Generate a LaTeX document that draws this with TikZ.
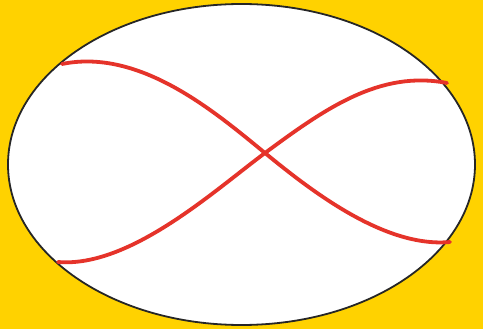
\documentclass[tikz,border=0pt]{standalone}
\definecolor{bgyellow}{HTML}{FFD200}
\definecolor{curvered}{HTML}{E5332A}
\tikzset{
  frame/.style={draw=black!85, line width=1.8pt, fill=white},
  wave/.style={draw=curvered, line width=3.8pt, line cap=round}
}
\begin{document}
\begin{tikzpicture}[x=1pt, y=-1pt]
  \fill[bgyellow] (0,0) rectangle (483,329);
  \useasboundingbox (0,0) rectangle (483,329);
  \coordinate (c) at (241.5,164.5);
  \path[frame] (c) ellipse [x radius=233.5, y radius=160.5];
  \coordinate (x) at (265,153);
  % curve from upper left to lower right
  \coordinate (a1) at (62,64);
  \coordinate (a2) at (450,242);
  \path[wave] (a1) .. controls (140,48) and (215,112) .. (x)
                   .. controls (312,191.5) and (385,248) .. (a2);
  % curve from lower left to upper right
  \coordinate (b1) at (58,262);
  \coordinate (b2) at (447,83);
  \path[wave] (b1) .. controls (130,268) and (215,190) .. (x)
                   .. controls (325,108.6) and (380,70) .. (b2);
\end{tikzpicture}
\end{document}
